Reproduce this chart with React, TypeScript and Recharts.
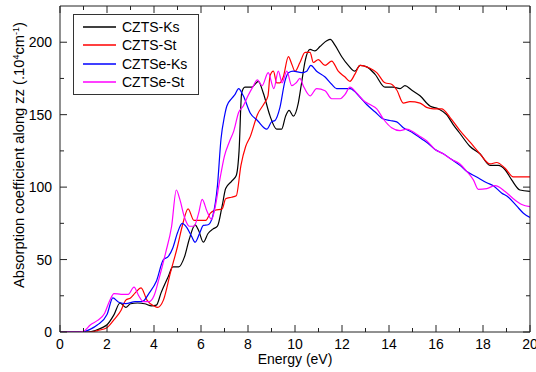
import React from 'react';
import { LineChart, Line, XAxis, YAxis, Legend } from 'recharts';

// CZTS kesterite
const ksSE = [0, 1.2, 1.5, 1.8, 2.0, 2.3, 2.55, 2.8, 3.0, 3.3, 3.6, 3.9, 4.1, 4.3, 4.6, 4.8, 5.05, 5.3, 5.5, 5.75, 5.9, 6.1, 6.3, 6.5, 6.7, 6.9, 7.05, 7.3, 7.5, 7.62, 7.73, 7.87, 8.16, 8.44, 8.65, 8.94, 9.22, 9.43, 9.6, 9.75, 9.93, 10.14, 10.28, 10.43, 10.64, 10.85, 11.06, 11.35, 11.5, 11.7, 11.99, 12.27, 12.55, 12.77, 13.05, 13.4, 13.83, 14.18, 14.47, 14.68, 14.96, 15.32, 15.74, 16.1, 16.45, 16.74, 17.02, 17.45, 17.87, 18.3, 18.65, 18.94, 19.22, 19.57, 20];
const ksSV = [0, 0, 1, 3, 5, 12, 20, 17, 19.5, 20, 19.5, 18, 18.5, 27, 38, 45, 45, 52, 64, 74, 70, 62, 68, 71, 73, 87, 99, 104, 108, 125, 165, 169, 169, 173, 165, 149, 140, 140, 149, 153, 149, 158, 172, 187, 195, 194, 197, 201, 202, 198, 190, 184, 180, 184, 183, 178, 169, 169, 168, 170, 167, 163, 156, 154, 150, 143, 137, 128, 123, 115, 115, 112, 105, 98, 97];

// CZTS stannite
const stSE = [0, 1.3, 1.6, 2.0, 2.3, 2.6, 2.8, 3.0, 3.2, 3.45, 3.7, 4.0, 4.15, 4.4, 4.7, 5.0, 5.2, 5.45, 5.7, 6.0, 6.2, 6.4, 6.6, 6.9, 7.05, 7.3, 7.5, 7.7, 7.9, 8.1, 8.4, 8.7, 8.85, 8.94, 9.08, 9.22, 9.36, 9.5, 9.72, 9.86, 10.0, 10.21, 10.43, 10.64, 10.78, 10.99, 11.28, 11.56, 11.84, 12.13, 12.34, 12.55, 12.77, 13.19, 13.48, 13.83, 14.11, 14.33, 14.61, 14.89, 15.32, 15.6, 15.89, 16.24, 16.6, 17.02, 17.45, 17.87, 18.3, 18.58, 18.94, 19.29, 19.65, 20];
const stSV = [0, 0, 1, 3, 8.5, 15, 22, 23.5, 27, 30.5, 22, 18, 17, 22, 41, 59, 73, 85, 77, 77, 77, 82, 84, 85, 92, 93, 94, 115, 128, 135, 150, 158, 163, 177, 180, 172, 172, 176, 190, 185, 180, 186, 193, 193, 186, 188, 184, 187, 180, 176, 173, 178, 184, 182, 179, 172, 171, 167, 158, 159, 158, 155, 154, 154, 148, 139, 131, 123, 116, 117, 113, 107, 107, 107];

// CZTSe kesterite
const ksSeE = [0, 0.9, 1.3, 1.6, 2.0, 2.25, 2.5, 2.8, 3.2, 3.5, 3.8, 4.1, 4.4, 4.6, 4.8, 5.0, 5.2, 5.4, 5.6, 5.75, 5.95, 6.1, 6.3, 6.5, 6.7, 6.85, 7.0, 7.1, 7.3, 7.45, 7.6, 7.8, 8.1, 8.4, 8.8, 9.0, 9.15, 9.36, 9.57, 9.72, 9.93, 10.28, 10.5, 10.67, 10.92, 11.28, 11.56, 11.77, 12.06, 12.34, 12.77, 13.05, 13.4, 13.76, 14.04, 14.33, 14.61, 14.96, 15.32, 15.6, 15.96, 16.31, 16.67, 17.02, 17.3, 17.73, 18.16, 18.44, 18.79, 19.08, 19.43, 19.72, 20];
const ksSeV = [0, 0, 2, 5, 12, 23.5, 20.5, 19.6, 21, 21, 27, 35, 50, 52, 58, 68.5, 75, 72, 66, 62, 68.5, 73.6, 74, 80, 101, 133, 149, 156, 161, 164, 168, 163, 151, 146, 140, 145, 146, 155, 173, 179, 180, 179, 180, 184, 180, 176, 171, 168, 168, 168, 162, 157, 152, 147, 146, 145, 141, 138, 134, 131, 126, 123, 119, 115, 111, 107, 103, 101, 96, 93, 87, 82, 79];

// CZTSe stannite
const stSeE = [0, 0.8, 1.0, 1.3, 1.6, 1.9, 2.1, 2.3, 2.6, 2.9, 3.15, 3.35, 3.55, 3.8, 4.0, 4.2, 4.5, 4.75, 4.95, 5.1, 5.3, 5.5, 5.7, 5.9, 6.05, 6.25, 6.45, 6.6, 6.8, 7.0, 7.2, 7.4, 7.6, 7.8, 8.0, 8.2, 8.4, 8.6, 8.86, 9.1, 9.29, 9.45, 9.65, 9.86, 10.05, 10.21, 10.35, 10.64, 10.92, 11.28, 11.56, 11.92, 12.13, 12.34, 12.62, 12.9, 13.19, 13.48, 13.76, 14.11, 14.47, 14.75, 15.04, 15.32, 15.6, 15.96, 16.31, 16.67, 17.02, 17.3, 17.59, 17.8, 18.16, 18.51, 18.94, 19.29, 19.65, 20];
const stSeV = [0, 0, 0.5, 5, 8, 13, 21, 26.5, 26, 26, 31, 25, 21, 21, 25, 36, 55, 73, 98, 91.5, 79, 73, 73, 82, 91.5, 83.5, 77.7, 86, 105, 121.6, 131, 139, 151.5, 156, 163, 169, 174, 170, 179, 168, 180, 172, 180, 170, 172, 175, 170, 163, 168, 166.5, 161, 161, 164, 169, 165, 160, 157, 154, 147, 141, 139, 140, 138, 135, 132, 126, 123, 119, 116, 111, 105, 98.5, 99, 101, 97, 92, 88, 86.5];

const xTicks = [0, 1, 2, 3, 4, 5, 6, 7, 8, 9, 10, 11, 12, 13, 14, 15, 16, 17, 18, 19, 20];
const yTicks = [0, 25, 50, 75, 100, 125, 150, 175, 200];

const toPts = (e: number[], v: number[]) => e.map((x, i) => ({ e: x, v: v[i] }));

const series = [
  { name: 'CZTS-Ks', color: '#000000', data: toPts(ksSE, ksSV) },
  { name: 'CZTS-St', color: '#ff0000', data: toPts(stSE, stSV) },
  { name: 'CZTSe-Ks', color: '#0000ff', data: toPts(ksSeE, ksSeV) },
  { name: 'CZTSe-St', color: '#ff00ff', data: toPts(stSeE, stSeV) },
];

const FONT = '"Liberation Sans", Arial, sans-serif';
const AXIS = '#222';

const XTick = (props: any) => {
  const { x, y, payload, top } = props;
  const major = payload.value % 2 === 0;
  const len = major ? 7 : 4;
  return (
    <g>
      <line x1={x} x2={x} y1={y} y2={top ? y + len : y - len} stroke={AXIS} />
      {!top && major && (
        <text x={x} y={y + 17} textAnchor="middle" fontSize={14} fontFamily={FONT} fill="#000">
          {payload.value}
        </text>
      )}
    </g>
  );
};

const YTick = (props: any) => {
  const { x, y, payload, right } = props;
  const major = payload.value % 50 === 0;
  const len = major ? 7 : 4;
  return (
    <g>
      <line x1={x} x2={right ? x - len : x + len} y1={y} y2={y} stroke={AXIS} />
      {!right && major && (
        <text x={x - 8} y={y + 5} textAnchor="end" fontSize={14} fontFamily={FONT} fill="#000">
          {payload.value}
        </text>
      )}
    </g>
  );
};

const YLabel = () => (
  <text
    transform="translate(24, 155) rotate(-90)"
    textAnchor="middle"
    fontSize={14.7}
    fontFamily={FONT}
    fill="#000"
  >
    Absorption coefficient along zz (.10
    <tspan dy={-5} fontSize={9}>4</tspan>
    <tspan dy={5}>cm</tspan>
    <tspan dy={-5} fontSize={9}>-1</tspan>
    <tspan dy={5}>)</tspan>
  </text>
);

const LegendBox = () => (
  <div
    style={{
      border: '1px solid #333',
      background: '#fff',
      width: 124,
      padding: '3px 0 3px 0',
      fontFamily: FONT,
      fontSize: 14,
    }}
  >
    {series.map((s) => (
      <div key={s.name} style={{ display: 'flex', alignItems: 'center', height: 18.3 }}>
        <svg width={33} height={4} style={{ marginLeft: 9, marginRight: 6 }}>
          <line x1={0} x2={33} y1={2} y2={2} stroke={s.color} strokeWidth={1.3} />
        </svg>
        <span>{s.name}</span>
      </div>
    ))}
  </div>
);

export default function App() {
  return (
    <div style={{ position: 'absolute', left: 0, top: 0, width: 536, height: 372, background: '#fff' }}>
      <LineChart width={536} height={372} margin={{ top: 5, right: 5, bottom: 0, left: 0 }}>
        <XAxis
          dataKey="e"
          type="number"
          domain={[0, 20]}
          ticks={xTicks}
          interval={0}
          allowDataOverflow
          height={40}
          tickSize={0}
          tickMargin={0}
          tickLine={false}
          stroke={AXIS}
          tick={<XTick />}
          label={{ value: 'Energy (eV)', position: 'insideBottom', offset: 8, fontSize: 14, fontFamily: FONT, fill: '#000' }}
        />
        <XAxis
          xAxisId="top"
          dataKey="e"
          type="number"
          orientation="top"
          domain={[0, 20]}
          ticks={xTicks}
          interval={0}
          allowDataOverflow
          height={1}
          tickSize={0}
          tickMargin={0}
          tickLine={false}
          stroke={AXIS}
          tick={<XTick top />}
        />
        <YAxis
          type="number"
          domain={[0, 225]}
          ticks={yTicks}
          interval={0}
          allowDataOverflow
          width={60}
          tickSize={0}
          tickMargin={0}
          tickLine={false}
          stroke={AXIS}
          tick={<YTick />}
          label={{ content: () => <YLabel /> }}
        />
        <YAxis
          yAxisId="right"
          type="number"
          orientation="right"
          domain={[0, 225]}
          ticks={yTicks}
          interval={0}
          allowDataOverflow
          width={1}
          tickSize={0}
          tickMargin={0}
          tickLine={false}
          stroke={AXIS}
          tick={<YTick right />}
        />
        <Legend
          layout="vertical"
          align="center"
          verticalAlign="middle"
          content={() => <LegendBox />}
          wrapperStyle={{ left: 73, top: 14, width: 'auto', height: 'auto' }}
        />
        {/* invisible copy so the mirrored top/right axes get drawn */}
        <Line
          data={series[0].data}
          dataKey="v"
          xAxisId="top"
          yAxisId="right"
          stroke="none"
          dot={false}
          activeDot={false}
          legendType="none"
          isAnimationActive={false}
        />
        {series.map((s) => (
          <Line
            key={s.name}
            data={s.data}
            dataKey="v"
            name={s.name}
            type="monotone"
            stroke={s.color}
            strokeWidth={1.2}
            dot={false}
            activeDot={false}
            isAnimationActive={false}
          />
        ))}
      </LineChart>
    </div>
  );
}
